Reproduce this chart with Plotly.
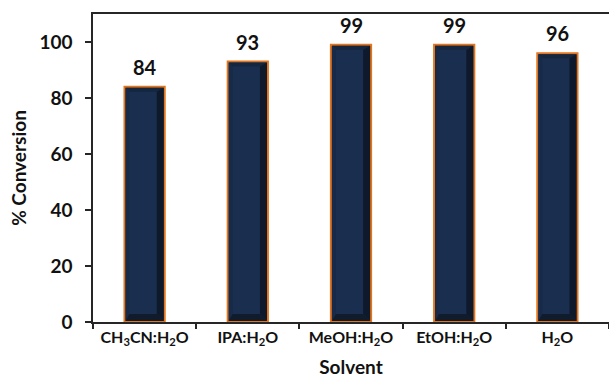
import plotly.graph_objects as go

# Solvent screening: conversion per solvent system
solvents = [
    "CH<sub>3</sub>CN:H<sub>2</sub>O",
    "IPA:H<sub>2</sub>O",
    "MeOH:H<sub>2</sub>O",
    "EtOH:H<sub>2</sub>O",
    "H<sub>2</sub>O",
]
conversion = [84, 93, 99, 99, 96]
y_tick_values = [0, 20, 40, 60, 80, 100]

# Figure geometry
W, H = 609, 378
ML, MR, MT, MB = 93, 0, 14, 56
X_RANGE = [-0.5, 4.5]
Y_RANGE = [0, 110]
plot_w = W - ML - MR
plot_h = H - MT - MB
ux = (X_RANGE[1] - X_RANGE[0]) / plot_w   # x data units per pixel
uy = (Y_RANGE[1] - Y_RANGE[0]) / plot_h   # y data units per pixel

BAR_WIDTH = 0.39
FONT = "Lato"
INK = "#111111"
AXIS = "#262626"
ORANGE = "#e2761f"
FACE = "#1a2e4f"
BEVEL_TOP = "#15263f"
BEVEL_LEFT = "#172a48"
BEVEL_RIGHT = "#0e1a2b"
BEVEL_BOTTOM = "#101b2b"

fig = go.Figure()
fig.add_trace(go.Bar(
    x=solvents,
    y=conversion,
    width=BAR_WIDTH,
    marker=dict(color=FACE, line=dict(color=ORANGE, width=2)),
    hoverinfo="x+y",
    showlegend=False,
))


def poly(points):
    return "M " + " L ".join(f"{px:.5f},{py:.5f}" for px, py in points) + " Z"


# Bevelled faces drawn inside each bar's outline
shapes = []
bl, br, bt, bb = 4 * ux, 7 * ux, 4 * uy, 7 * uy
for i, v in enumerate(conversion):
    L = i - BAR_WIDTH / 2 + 1 * ux
    R = i + BAR_WIDTH / 2 - 1 * ux
    T = v - 1 * uy
    B = 0 + 1 * uy
    faces = [
        ([(L, T), (R, T), (R - br, T - bt), (L + bl, T - bt)], BEVEL_TOP),
        ([(L, T), (L + bl, T - bt), (L + bl, B + bb), (L, B)], BEVEL_LEFT),
        ([(R, T), (R - br, T - bt), (R - br, B + bb), (R, B)], BEVEL_RIGHT),
        ([(L, B), (L + bl, B + bb), (R - br, B + bb), (R, B)], BEVEL_BOTTOM),
    ]
    for pts, col in faces:
        shapes.append(dict(
            type="path", xref="x", yref="y", path=poly(pts),
            fillcolor=col, line=dict(width=0), layer="above",
        ))

# Value labels above the bars
annotations = [
    dict(x=s, y=v, text=str(v), showarrow=False, xref="x", yref="y",
         yanchor="bottom", yshift=6,
         font=dict(family=FONT, size=20, color=INK, weight="bold"))
    for s, v in zip(solvents, conversion)
]

fig.update_layout(
    width=W, height=H,
    margin=dict(l=ML, r=MR, t=MT, b=MB, pad=0, autoexpand=False),
    paper_bgcolor="white", plot_bgcolor="white",
    font=dict(family=FONT, color=INK),
    shapes=shapes,
    annotations=annotations,
    bargap=0.6,
)

fig.update_xaxes(
    type="category",
    range=X_RANGE,
    tickson="boundaries",
    tickangle=0, automargin=False,
    ticks="outside", ticklen=5, tickwidth=1.5, tickcolor=AXIS,
    showline=True, linecolor=AXIS, linewidth=1.5, mirror=True,
    showgrid=False, zeroline=False,
    tickfont=dict(family=FONT, size=16, color=INK, weight="bold"),
    title=dict(text="Solvent", standoff=13,
               font=dict(family=FONT, size=19, color=INK, weight="bold")),
)

fig.update_yaxes(
    range=Y_RANGE,
    automargin=False,
    tickmode="array", tickvals=y_tick_values,
    ticks="outside", ticklen=6, tickwidth=1.5, tickcolor=AXIS,
    showline=True, linecolor=AXIS, linewidth=1.5,
    showgrid=False, zeroline=False,
    ticklabelstandoff=9,
    tickfont=dict(family=FONT, size=19, color=INK, weight="bold"),
    title=dict(text="% Conversion", standoff=8,
               font=dict(family=FONT, size=19, color=INK, weight="bold")),
)

fig.write_html("out.html")
